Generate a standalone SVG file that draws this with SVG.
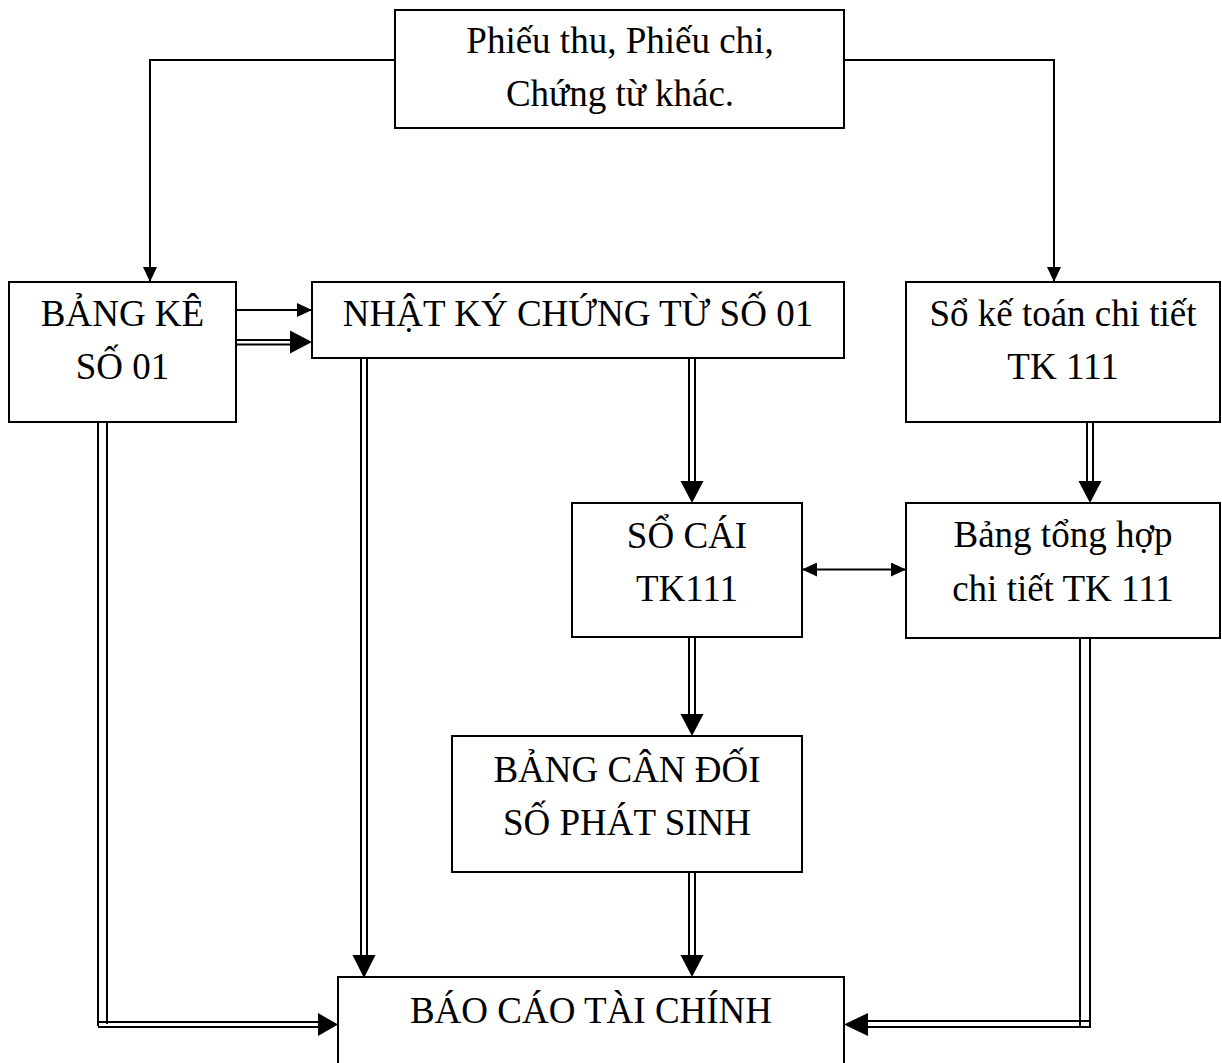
<svg xmlns="http://www.w3.org/2000/svg" width="1222" height="1063" viewBox="0 0 1222 1063">
<style>
.box{fill:#fff;stroke:#000;stroke-width:2}
.t{font-family:"Liberation Serif","Times New Roman",serif;font-size:37px;fill:#000;text-anchor:middle}
.s{fill:none;stroke:#000;stroke-width:2}
.d{fill:none;stroke:#000;stroke-width:2}
.ah{fill:#000}
</style>
<defs>
<marker id="sa" viewBox="0 0 15 14" refX="15" refY="7" markerWidth="15" markerHeight="14" markerUnits="userSpaceOnUse" orient="auto"><path d="M0,0 L15,7 L0,14 Z" fill="#000"/></marker>
<marker id="sb" viewBox="0 0 15 14" refX="0" refY="7" markerWidth="15" markerHeight="14" markerUnits="userSpaceOnUse" orient="auto"><path d="M15,0 L0,7 L15,14 Z" fill="#000"/></marker>
</defs>
<g id="connectors">
<path class="s" d="M395,60 H150 V282" marker-end="url(#sa)"/>
<path class="s" d="M844,60 H1054 V282" marker-end="url(#sa)"/>
<path class="s" d="M236,310 H312" marker-end="url(#sa)"/>
<path class="s" d="M802,569.5 H906" marker-start="url(#sb)" marker-end="url(#sa)"/>
<path class="d" d="M236,340 H292 M236,344.5 H292"/>
<path class="ah" d="M290,330.5 L312,342 L290,353.5 Z"/>
<path class="d" d="M361,358 V957 M367,358 V957"/>
<path class="ah" d="M352.5,955 L364,978 L375.5,955 Z"/>
<path class="d" d="M689,358 V483 M695,358 V483"/>
<path class="ah" d="M680.5,481 L692,503 L703.5,481 Z"/>
<path class="d" d="M1087,422 V483 M1093,422 V483"/>
<path class="ah" d="M1078.5,481 L1090,503 L1101.5,481 Z"/>
<path class="d" d="M689,637 V716 M695,637 V716"/>
<path class="ah" d="M680.5,714 L692,736 L703.5,714 Z"/>
<path class="d" d="M689,872 V957 M695,872 V957"/>
<path class="ah" d="M680.5,955 L692,977 L703.5,955 Z"/>
<path class="d" d="M98,422 V1026 M107,422 V1024 M98,1022 H320 M98,1027 H320"/>
<path class="ah" d="M318,1013 L338,1024.5 L318,1036 Z"/>
<path class="d" d="M1080,638 V1026 M1090,638 V1028 M866,1021 H1090 M866,1027 H1090"/>
<path class="ah" d="M868,1013 L844,1024.5 L868,1036 Z"/>
</g>
<g id="n_chungtu"><rect class="box" x="395" y="10" width="449" height="118"/><text class="t" x="620" y="53">Phiếu thu, Phiếu chi,</text><text class="t" x="620" y="106">Chứng từ khác.</text></g>
<g id="n_bangke"><rect class="box" x="9" y="282" width="227" height="140"/><text class="t" x="122.5" y="326">BẢNG KÊ</text><text class="t" x="122.5" y="379">SỐ 01</text></g>
<g id="n_nhatky"><rect class="box" x="312" y="282" width="532" height="76"/><text class="t" x="578" y="326">NHẬT KÝ CHỨNG TỪ SỐ 01</text></g>
<g id="n_sokt"><rect class="box" x="906" y="282" width="314" height="140"/><text class="t" x="1063" y="326">Sổ kế toán chi tiết</text><text class="t" x="1063" y="379">TK 111</text></g>
<g id="n_socai"><rect class="box" x="572" y="503" width="230" height="134"/><text class="t" x="687" y="548">SỔ CÁI</text><text class="t" x="687" y="601">TK111</text></g>
<g id="n_bangth"><rect class="box" x="906" y="503" width="314" height="135"/><text class="t" x="1063" y="547">Bảng tổng hợp</text><text class="t" x="1063" y="601">chi tiết TK 111</text></g>
<g id="n_cdps"><rect class="box" x="452" y="736" width="350" height="136"/><text class="t" x="627" y="782">BẢNG CÂN ĐỐI</text><text class="t" x="627" y="835">SỐ PHÁT SINH</text></g>
<g id="n_bctc"><rect class="box" x="338" y="977" width="506" height="100"/><text class="t" x="591" y="1023">BÁO CÁO TÀI CHÍNH</text></g>
</svg>
